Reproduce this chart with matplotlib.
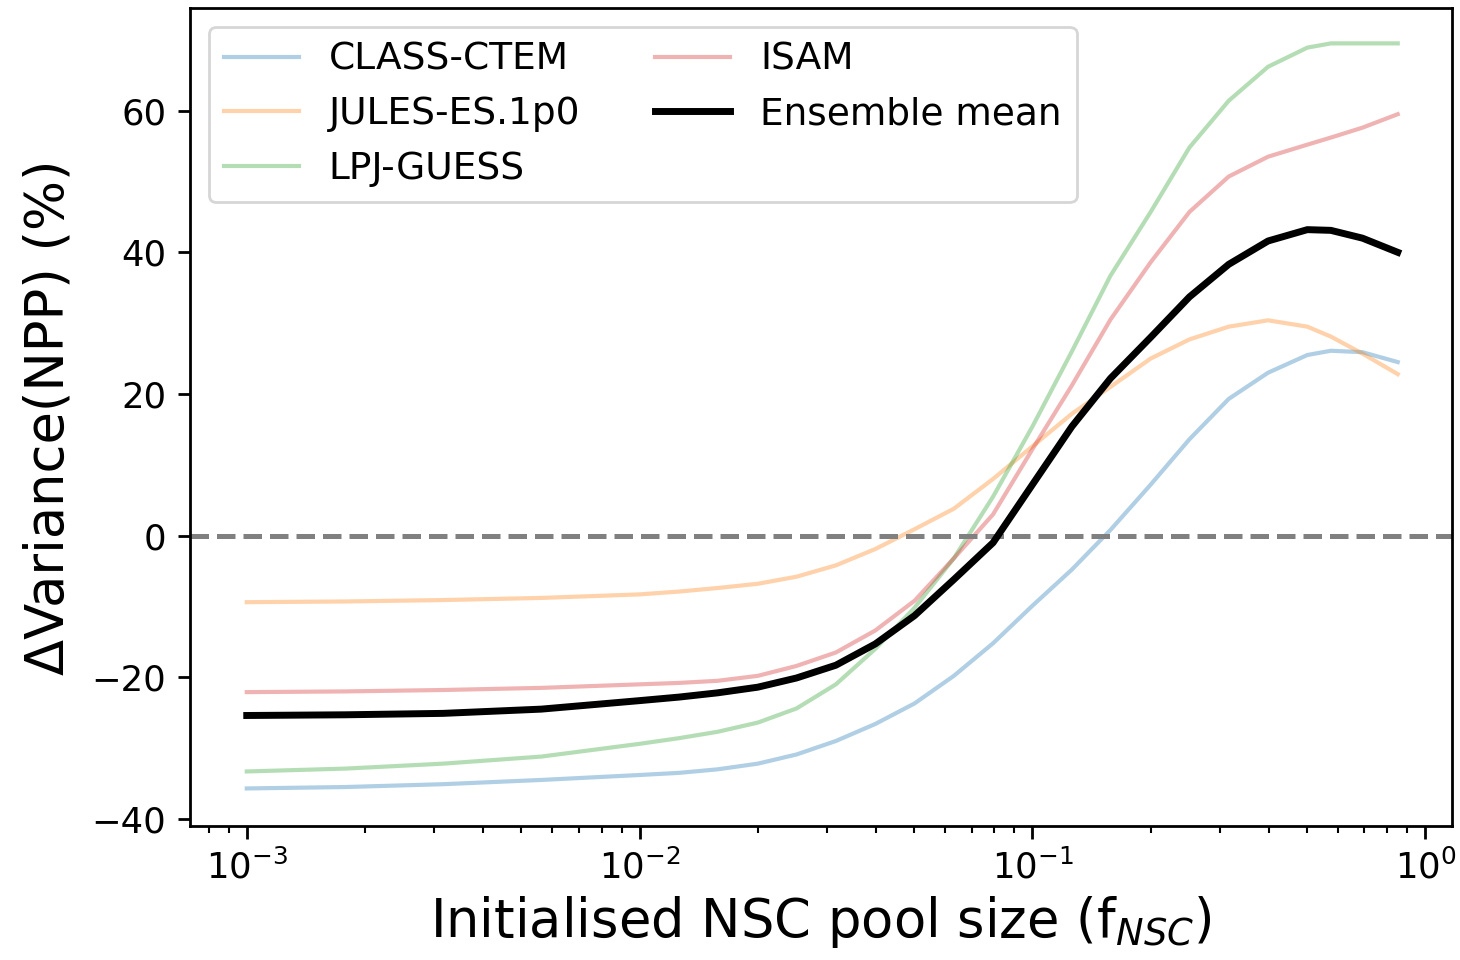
import matplotlib
matplotlib.use("Agg")
import matplotlib.pyplot as plt

# f_NSC values (x positions of the sampled points)
f_nsc = [0.001, 0.00178, 0.00316, 0.00562, 0.01, 0.0126, 0.0158, 0.02, 0.0251, 0.0316,
         0.0398, 0.0501, 0.0631, 0.0794, 0.1, 0.126, 0.158, 0.2, 0.251, 0.316,
         0.398, 0.501, 0.575, 0.692, 0.851]

class_ctem = [-35.7, -35.5, -35.1, -34.5, -33.8, -33.5, -33.0, -32.2, -30.9, -29.0,
              -26.6, -23.7, -19.8, -15.2, -9.9, -4.8, 0.8, 7.2, 13.6, 19.3,
              23.0, 25.5, 26.1, 25.9, 24.5]
jules = [-9.4, -9.3, -9.1, -8.8, -8.3, -7.9, -7.4, -6.8, -5.8, -4.2,
         -1.9, 0.9, 3.8, 8.0, 12.6, 17.2, 21.0, 25.0, 27.7, 29.5,
         30.4, 29.5, 28.1, 25.7, 22.8]
lpj_guess = [-33.3, -32.9, -32.2, -31.2, -29.4, -28.6, -27.7, -26.4, -24.4, -21.0,
             -16.0, -10.2, -3.2, 5.5, 15.4, 26.0, 36.7, 45.7, 54.8, 61.4,
             66.2, 68.9, 69.5, 69.5, 69.5]
isam = [-22.1, -22.0, -21.8, -21.5, -21.0, -20.8, -20.5, -19.8, -18.4, -16.5,
        -13.4, -9.2, -3.2, 3.0, 12.2, 21.2, 30.5, 38.6, 45.7, 50.7,
        53.5, 55.2, 56.2, 57.6, 59.5]
ensemble = [-25.4, -25.3, -25.1, -24.5, -23.3, -22.8, -22.2, -21.4, -20.1, -18.3,
            -15.3, -11.3, -6.2, -1.0, 7.2, 15.4, 22.2, 28.0, 33.7, 38.3,
            41.6, 43.2, 43.1, 42.0, 40.0]

models = ["CLASS-CTEM", "JULES-ES.1p0", "LPJ-GUESS", "ISAM"]
model_values = [class_ctem, jules, lpj_guess, isam]
model_colors = ["tab:blue", "tab:orange", "tab:green", "tab:red"]

fig = plt.figure(figsize=(14.6, 9.6), dpi=100)
ax = fig.add_axes([0.130, 0.1396, 0.8645, 0.8521])

for name, vals, col in zip(models, model_values, model_colors):
    ax.plot(f_nsc, vals, color=col, alpha=0.35, lw=3.0, label=name, zorder=2)
ax.axhline(0, color="gray", ls="--", lw=3.6, zorder=2.5)
ax.plot(f_nsc, ensemble, color="black", lw=5.0, label="Ensemble mean", zorder=3)

ax.set_xscale("log")
ax.set_xlim(10 ** -3.145, 10 ** 0.068)
ax.set_ylim(-41, 74.5)
ax.set_yticks([-40, -20, 0, 20, 40, 60])

for s in ax.spines.values():
    s.set_linewidth(2.0)
ax.tick_params(which="major", length=9, width=2.0, labelsize=25.5, pad=8)
ax.tick_params(which="minor", length=5, width=1.5)

ax.set_xlabel("Initialised NSC pool size (f$_{NSC}$)", fontsize=38, labelpad=6)
ax.set_ylabel("ΔVariance(NPP) (%)", fontsize=38, labelpad=12)

leg = ax.legend(ncol=2, loc="upper left", fontsize=27, borderaxespad=0.5,
                handlelength=2.0, columnspacing=2.0)
leg.get_frame().set_linewidth(2.0)

fig.savefig("out.png", dpi=100)
